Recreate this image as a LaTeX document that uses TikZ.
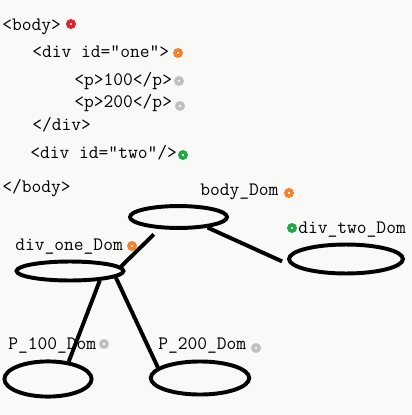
\documentclass[tikz,border=0pt]{standalone}
\usepackage{fontspec}
\usetikzlibrary{shapes.geometric,positioning}
\definecolor{paper}{RGB}{249,249,247}
\definecolor{dotred}{RGB}{232,32,42}
\definecolor{dotorange}{RGB}{245,130,42}
\definecolor{dotgray}{RGB}{192,192,192}
\definecolor{dotgreen}{RGB}{34,168,72}
\tikzset{
  code/.style={anchor=base west, inner sep=0pt, font=\ttfamily\fontsize{13.5}{16}\selectfont},
  bead/.style={circle, draw=#1, fill=white, line width=2.5pt, minimum size=4.4pt, inner sep=0pt},
  dom/.style={ellipse, draw, line width=2.8pt, inner sep=0pt},
  link/.style={line width=2.8pt}
}
\begin{document}
\begin{tikzpicture}[x=0.025cm,y=-0.025cm]
\fill[paper] (0,0) rectangle (412,415);
\useasboundingbox (0,0) rectangle (412,415);
% html source
\node[code] (tbody) at (2,30) {<body>};
\node[code] (tdivone) at (32,57) {<div id=”one”>};
\node[code] (tpone) at (74,85) {<p>100</p>};
\node[code] (tptwo) at (74,107) {<p>200</p>};
\node[code] (tdivend) at (32,130) {</div>};
\node[code] (tdivtwo) at (30,158) {<div id=”two”/>};
\node[code] (tbodyend) at (2,192) {</body>};
\node[bead=dotred] (d1) at (71,24) {};
\node[bead=dotorange] (d2) at (178,53) {};
\node[bead=dotgray] (d3) at (179,81) {};
\node[bead=dotgray] (d4) at (180,106) {};
\node[bead=dotgreen] (d5) at (183,155) {};
% dom tree
\node[dom, minimum width=69pt, minimum height=15.6pt] (body) at (178.5,217) {};
\node[dom, minimum width=81pt, minimum height=20.6pt] (two) at (346,259) {};
\node[dom, minimum width=76pt, minimum height=13.5pt] (one) at (70,271) {};
\node[dom, minimum width=62pt, minimum height=25pt] (pone) at (48,379) {};
\node[dom, minimum width=70pt, minimum height=23.5pt] (ptwo) at (200,378) {};
\node[code] (lbody) at (200,195) {body\_Dom};
\node[code] (ltwo) at (298,233) {div\_two\_Dom};
\node[code] (lone) at (15,250) {div\_one\_Dom};
\node[code] (lpone) at (8,349) {P\_100\_Dom};
\node[code] (lptwo) at (158,349) {P\_200\_Dom};
\node[bead=dotorange] (d6) at (289,193) {};
\node[bead=dotgreen] (d7) at (292,228) {};
\node[bead=dotorange] (d8) at (132,246) {};
\node[bead=dotgray] (d9) at (104,344) {};
\node[bead=dotgray] (d10) at (256,348) {};
\draw[link, shorten <=5.5pt] (body.212) -- (one.5);
\draw[link, shorten >=11pt] (body.-20) -- (two.190);
\draw[link] (one.-18) -- (pone.40);
\draw[link] (one.-8) -- (ptwo.166);
\end{tikzpicture}
\end{document}
